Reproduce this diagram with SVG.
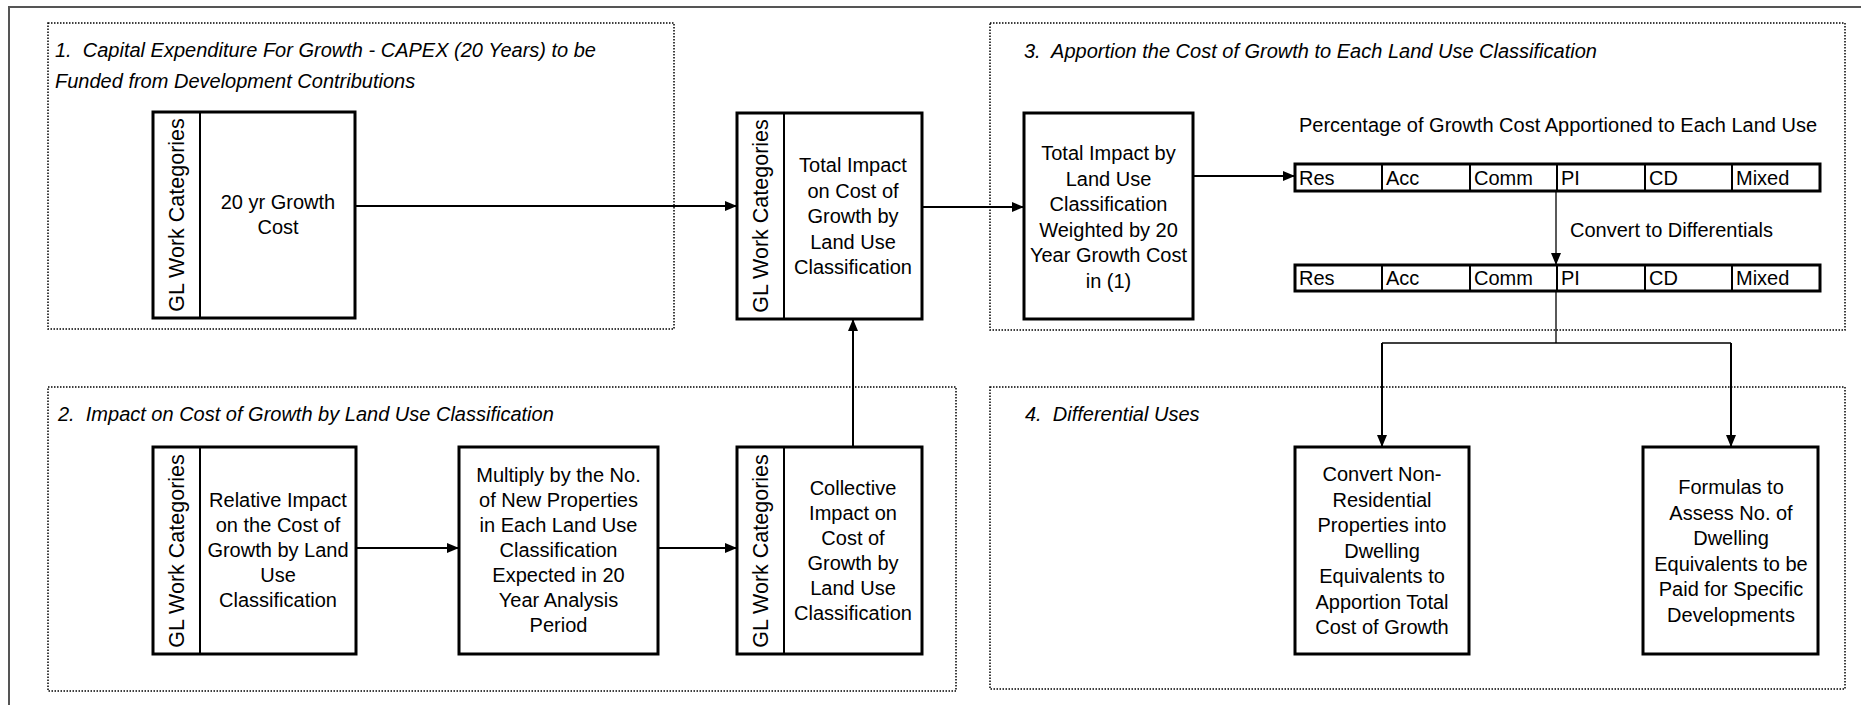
<svg xmlns="http://www.w3.org/2000/svg" width="1861" height="705" viewBox="0 0 1861 705">
<style>
text{font-family:"Liberation Sans",Arial,sans-serif;font-size:20px;fill:#000}
.t{font-style:italic}
.c{text-anchor:middle}
.sec{fill:none;stroke:#000;stroke-width:1.5;stroke-dasharray:1.5 1.5}
.box{fill:#fff;stroke:#000;stroke-width:3}
.div{stroke:#000;stroke-width:2}
.ln{fill:none;stroke:#000;stroke-width:2}
.thin{fill:none;stroke:#000;stroke-width:1.3}
.v{font-size:21.5px;text-anchor:middle}
</style>
<defs>
<marker id="ah" viewBox="0 0 12 10" refX="12" refY="5" markerWidth="12" markerHeight="10" markerUnits="userSpaceOnUse" orient="auto">
<path d="M0,0 L12,5 L0,10 Z" fill="#000"/>
</marker>
</defs>
<rect width="1861" height="705" fill="#fff"/>
<g id="frame"><path d="M9,705 V7 H1861" fill="none" stroke="#555" stroke-width="2"/></g>

<g id="section1"><rect class="sec" x="48" y="23" width="626" height="306"/>
<text class="t" x="55" y="57" xml:space="preserve">1.  Capital Expenditure For Growth - CAPEX (20 Years) to be</text>
<text class="t" x="55" y="88">Funded from Development Contributions</text></g>
<g id="section2"><rect class="sec" x="48" y="387" width="908" height="304"/>
<text class="t" x="58" y="421" xml:space="preserve">2.  Impact on Cost of Growth by Land Use Classification</text></g>
<g id="section3"><rect class="sec" x="990" y="23" width="855" height="307"/>
<text class="t" x="1024" y="58" xml:space="preserve">3.  Apportion the Cost of Growth to Each Land Use Classification</text>
<text x="1299" y="132">Percentage of Growth Cost Apportioned to Each Land Use</text>
<text x="1570" y="237">Convert to Differentials</text></g>
<g id="section4"><rect class="sec" x="990" y="387" width="855" height="302"/>
<text class="t" x="1025" y="421" xml:space="preserve">4.  Differential Uses</text></g>

<g id="connectors">
<line class="ln" x1="355" y1="206" x2="737" y2="206" marker-end="url(#ah)"/>
<line class="ln" x1="922" y1="207" x2="1024" y2="207" marker-end="url(#ah)"/>
<line class="ln" x1="1193" y1="176" x2="1295" y2="176" marker-end="url(#ah)"/>
<line class="ln" x1="356" y1="548" x2="459" y2="548" marker-end="url(#ah)"/>
<line class="ln" x1="658" y1="548" x2="737" y2="548" marker-end="url(#ah)"/>
<line class="ln" x1="853" y1="447" x2="853" y2="319" marker-end="url(#ah)"/>
<line class="thin" x1="1556" y1="191" x2="1556" y2="265" marker-end="url(#ah)"/>
<path class="thin" d="M1556,291 V343 H1382 M1556,343 H1731"/>
<line class="ln" x1="1382" y1="343" x2="1382" y2="447" marker-end="url(#ah)"/>
<line class="ln" x1="1731" y1="343" x2="1731" y2="447" marker-end="url(#ah)"/>
</g>

<g id="n1"><rect class="box" x="153" y="112" width="202" height="206"/>
<line class="div" x1="200" y1="112" x2="200" y2="318"/>
<text class="v" transform="translate(184,215) rotate(-90)">GL Work Categories</text>
<text class="c" x="278" y="209"><tspan x="278">20 yr Growth</tspan><tspan x="278" dy="25">Cost</tspan></text></g>

<g id="n2"><rect class="box" x="737" y="113" width="185" height="206"/>
<line class="div" x1="784" y1="113" x2="784" y2="319"/>
<text class="v" transform="translate(768,216) rotate(-90)">GL Work Categories</text>
<text class="c" y="172"><tspan x="853">Total Impact</tspan><tspan x="853" dy="25.5">on Cost of</tspan><tspan x="853" dy="25.5">Growth by</tspan><tspan x="853" dy="25.5">Land Use</tspan><tspan x="853" dy="25.5">Classification</tspan></text></g>

<g id="n3"><rect class="box" x="1024" y="113" width="169" height="206"/>
<text class="c" y="160"><tspan x="1108.5">Total Impact by</tspan><tspan x="1108.5" dy="25.5">Land Use</tspan><tspan x="1108.5" dy="25.5">Classification</tspan><tspan x="1108.5" dy="25.5">Weighted by 20</tspan><tspan x="1108.5" dy="25.5">Year Growth Cost</tspan><tspan x="1108.5" dy="25.5">in (1)</tspan></text></g>

<g id="table1"><rect class="box" x="1295" y="164" width="525" height="27"/>
<path class="div" d="M1382,164V191M1470,164V191M1557,164V191M1645,164V191M1732,164V191"/>
<text y="185"><tspan x="1299">Res</tspan><tspan x="1386">Acc</tspan><tspan x="1474">Comm</tspan><tspan x="1561">PI</tspan><tspan x="1649">CD</tspan><tspan x="1736">Mixed</tspan></text></g>

<g id="table2"><rect class="box" x="1295" y="265" width="525" height="26"/>
<path class="div" d="M1382,265V291M1470,265V291M1557,265V291M1645,265V291M1732,265V291"/>
<text y="285"><tspan x="1299">Res</tspan><tspan x="1386">Acc</tspan><tspan x="1474">Comm</tspan><tspan x="1561">PI</tspan><tspan x="1649">CD</tspan><tspan x="1736">Mixed</tspan></text></g>

<g id="n2a"><rect class="box" x="153" y="447" width="203" height="207"/>
<line class="div" x1="200" y1="447" x2="200" y2="654"/>
<text class="v" transform="translate(184,551) rotate(-90)">GL Work Categories</text>
<text class="c" y="507"><tspan x="278">Relative Impact</tspan><tspan x="278" dy="25">on the Cost of</tspan><tspan x="278" dy="25">Growth by Land</tspan><tspan x="278" dy="25">Use</tspan><tspan x="278" dy="25">Classification</tspan></text></g>

<g id="n2b"><rect class="box" x="459" y="447" width="199" height="207"/>
<text class="c" y="482"><tspan x="558.5">Multiply by the No.</tspan><tspan x="558.5" dy="25">of New Properties</tspan><tspan x="558.5" dy="25">in Each Land Use</tspan><tspan x="558.5" dy="25">Classification</tspan><tspan x="558.5" dy="25">Expected in 20</tspan><tspan x="558.5" dy="25">Year Analysis</tspan><tspan x="558.5" dy="25">Period</tspan></text></g>

<g id="n2c"><rect class="box" x="737" y="447" width="185" height="207"/>
<line class="div" x1="784" y1="447" x2="784" y2="654"/>
<text class="v" transform="translate(768,551) rotate(-90)">GL Work Categories</text>
<text class="c" y="495"><tspan x="853">Collective</tspan><tspan x="853" dy="25">Impact on</tspan><tspan x="853" dy="25">Cost of</tspan><tspan x="853" dy="25">Growth by</tspan><tspan x="853" dy="25">Land Use</tspan><tspan x="853" dy="25">Classification</tspan></text></g>

<g id="n4a"><rect class="box" x="1295" y="447" width="174" height="207"/>
<text class="c" y="481"><tspan x="1382">Convert Non-</tspan><tspan x="1382" dy="25.5">Residential</tspan><tspan x="1382" dy="25.5">Properties into</tspan><tspan x="1382" dy="25.5">Dwelling</tspan><tspan x="1382" dy="25.5">Equivalents to</tspan><tspan x="1382" dy="25.5">Apportion Total</tspan><tspan x="1382" dy="25.5">Cost of Growth</tspan></text></g>

<g id="n4b"><rect class="box" x="1643" y="447" width="175" height="207"/>
<text class="c" y="494"><tspan x="1731">Formulas to</tspan><tspan x="1731" dy="25.5">Assess No. of</tspan><tspan x="1731" dy="25.5">Dwelling</tspan><tspan x="1731" dy="25.5">Equivalents to be</tspan><tspan x="1731" dy="25.5">Paid for Specific</tspan><tspan x="1731" dy="25.5">Developments</tspan></text></g>
</svg>
